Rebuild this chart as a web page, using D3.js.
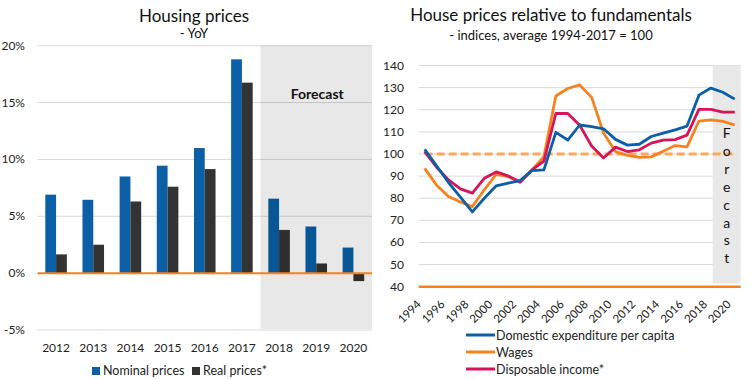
<!DOCTYPE html>
<html>
<head>
<meta charset="utf-8">
<script src="https://cdn.jsdelivr.net/npm/d3@7"></script>
<style>
  body { margin: 0; background: #fff; }
  svg { font-family: Lato, "Open Sans", sans-serif; }
</style>
</head>
<body>
<svg width="756" height="379"></svg>
<script>
// left chart: housing prices, yoy %
var barYears = ["2012", "2013", "2014", "2015", "2016", "2017", "2018", "2019", "2020"];
var nominal = [6.9, 6.45, 8.5, 9.45, 11.0, 18.8, 6.55, 4.1, 2.25];
var real = [1.65, 2.5, 6.3, 7.6, 9.15, 16.75, 3.8, 0.85, -0.7];
var pctTicks = [-5, 0, 5, 10, 15, 20];
var barForecastFrom = "2018";

// right chart: indices, average 1994-2017 = 100
var years = d3.range(1994, 2021);
var domestic = [102.1, 94.6, 87.1, 80.5, 73.8, 80, 85.6, 86.8, 88, 92.5, 92.8, 109.8, 106.3, 113.1, 112.4, 111.4, 106.6, 104, 104.4, 107.9, 109.4, 110.9, 112.6, 126.6, 129.8, 127.9, 124.8];
var wages = [93.5, 85.9, 80.8, 78.3, 76.2, 83.8, 90.8, 89.8, 87.5, 92.8, 98.8, 126.2, 129.6, 131.2, 125.6, 109.5, 101.1, 99.4, 98.5, 98.7, 101.2, 103.8, 103.2, 114.9, 115.4, 114.7, 113.1];
var income = [101, 94, 88.3, 84.2, 82.3, 89, 91.9, 90.1, 87.2, 92.8, 96.8, 118.3, 118.3, 113, 103.6, 98.2, 103.1, 101.1, 101.9, 104.9, 106.3, 106.5, 108.5, 120.2, 120.2, 118.9, 118.9];
var baseline = 100;
var idxTicks = [40, 50, 60, 70, 80, 90, 100, 110, 120, 130, 140];
var lineForecastFrom = 2018;

var blue = "#0a5fa6", dark = "#333333", orange = "#f5821f", pink = "#d5145a";
var grid = "#d9d9d9", shade = "rgba(0,0,0,0.09)";

var svg = d3.select("svg");

// ---------- left ----------
var x = d3.scaleBand().domain(barYears).range([37.5, 372]).paddingInner(0.42).paddingOuter(0.21);
var xs = d3.scaleBand().domain(["n", "r"]).range([0, x.bandwidth()]);
var y = d3.scaleLinear().domain([-5, 20]).range([330, 45.7]);

var L = svg.append("g");

L.append("text").attr("x", 194).attr("y", 22).attr("text-anchor", "middle")
  .attr("font-size", "17px").attr("fill", "#111").text("Housing prices");
L.append("text").attr("x", 194).attr("y", 38).attr("text-anchor", "middle")
  .attr("font-size", "13px").attr("fill", "#111").text("- YoY");

L.append("g").selectAll("line").data(pctTicks.filter(function (d) { return d != 0; })).enter()
  .append("line")
  .attr("x1", 37.5).attr("x2", 372)
  .attr("y1", function (d) { return y(d); }).attr("y2", function (d) { return y(d); })
  .attr("stroke", grid).attr("stroke-width", 1);

L.append("g").selectAll("text").data(pctTicks).enter()
  .append("text")
  .attr("x", 25).attr("y", function (d) { return y(d) + 4; })
  .attr("text-anchor", "end").attr("font-size", "12px").attr("fill", "#222")
  .text(function (d) { return d + "%"; });

var bars = L.append("g");
bars.selectAll(".nom").data(barYears).enter().append("rect")
  .attr("x", function (d) { return x(d) + xs("n"); })
  .attr("width", xs.bandwidth())
  .attr("y", function (d, i) { return y(Math.max(0, nominal[i])); })
  .attr("height", function (d, i) { return Math.abs(y(nominal[i]) - y(0)); })
  .attr("fill", blue);
bars.selectAll(".real").data(barYears).enter().append("rect")
  .attr("x", function (d) { return x(d) + xs("r"); })
  .attr("width", xs.bandwidth())
  .attr("y", function (d, i) { return y(Math.max(0, real[i])); })
  .attr("height", function (d, i) { return Math.abs(y(real[i]) - y(0)); })
  .attr("fill", dark);

var fx0 = x(barForecastFrom) - x.step() * x.paddingInner() / 2;
L.append("rect").attr("x", fx0).attr("y", y(20))
  .attr("width", 372 - fx0).attr("height", y(-5) - 1 - y(20))
  .attr("fill", shade);
L.append("text").attr("x", (fx0 + 372) / 2 + 1).attr("y", 99).attr("text-anchor", "middle")
  .attr("font-size", "14px").attr("font-weight", "bold").attr("fill", "#111").text("Forecast");

L.append("line").attr("x1", 37.5).attr("x2", 372).attr("y1", y(0)).attr("y2", y(0))
  .attr("stroke", orange).attr("stroke-width", 2);

L.append("g").selectAll("text").data(barYears).enter()
  .append("text")
  .attr("x", function (d) { return x(d) + x.bandwidth() / 2; })
  .attr("y", 352).attr("text-anchor", "middle").attr("font-size", "12px").attr("fill", "#222")
  .text(function (d) { return d; });

var lg = L.append("g").attr("font-size", "12.5px").attr("fill", "#222");
lg.append("rect").attr("x", 92).attr("y", 367).attr("width", 8).attr("height", 8).attr("fill", blue);
lg.append("text").attr("x", 103).attr("y", 375).text("Nominal prices");
lg.append("rect").attr("x", 192).attr("y", 367).attr("width", 8).attr("height", 8).attr("fill", dark);
lg.append("text").attr("x", 203).attr("y", 375).text("Real prices*");

// ---------- right ----------
var px = d3.scalePoint().domain(years).range([418.7, 740.7]).padding(0.5);
var py = d3.scaleLinear().domain([40, 140]).range([286.7, 65.5]);

var R = svg.append("g");

R.append("text").attr("x", 551).attr("y", 21).attr("text-anchor", "middle")
  .attr("font-size", "17px").attr("fill", "#111").text("House prices relative to fundamentals");
R.append("text").attr("x", 551).attr("y", 40).attr("text-anchor", "middle")
  .attr("font-size", "13px").attr("fill", "#111").text("- indices, average 1994-2017 = 100");

R.append("g").selectAll("line").data(idxTicks.filter(function (d) { return d != 40; })).enter()
  .append("line")
  .attr("x1", 418.7).attr("x2", 740.7)
  .attr("y1", function (d) { return py(d); }).attr("y2", function (d) { return py(d); })
  .attr("stroke", grid).attr("stroke-width", 1);

R.append("g").selectAll("text").data(idxTicks).enter()
  .append("text")
  .attr("x", 404).attr("y", function (d) { return py(d) + 4; })
  .attr("text-anchor", "end").attr("font-size", "12px").attr("fill", "#222")
  .text(function (d) { return d; });

var sx0 = px(lineForecastFrom) + px.step() * 0.15;
R.append("rect").attr("x", sx0).attr("y", py(140))
  .attr("width", 740.7 - sx0).attr("height", py(40) - 3 - py(140))
  .attr("fill", "#e8e8e8");

var line = d3.line()
  .x(function (d, i) { return px(years[i]); })
  .y(function (d) { return py(d); });

R.append("path").datum(years.map(function () { return baseline; }))
  .attr("d", line).attr("fill", "none")
  .attr("stroke", "#f8a961").attr("stroke-width", 3).attr("stroke-dasharray", "8,4");

[[wages, orange], [income, pink], [domestic, blue]].forEach(function (s) {
  R.append("path").datum(s[0])
    .attr("d", line).attr("fill", "none")
    .attr("stroke", s[1]).attr("stroke-width", 2.8).attr("stroke-linejoin", "round");
});

var fl = "Forecast".split("");
R.append("g").selectAll("text").data(fl).enter()
  .append("text")
  .attr("x", (sx0 + 740.7) / 2).attr("y", function (d, i) { return 138 + i * 17.9; })
  .attr("text-anchor", "middle").attr("font-size", "14px").attr("fill", "#111")
  .text(function (d) { return d; });

R.append("line").attr("x1", 418.7).attr("x2", 740.7).attr("y1", py(40)).attr("y2", py(40))
  .attr("stroke", orange).attr("stroke-width", 2.5);

R.append("g").selectAll("text").data(years.filter(function (d) { return d % 2 == 0; })).enter()
  .append("text")
  .attr("transform", function (d) { return "translate(" + (px(d) - 3) + ",305) rotate(-45)"; })
  .attr("text-anchor", "end").attr("font-size", "11.5px").attr("fill", "#222")
  .text(function (d) { return d; });

var legend = [["Domestic expenditure per capita", blue], ["Wages", orange], ["Disposable income*", pink]];
var rl = R.append("g");
legend.forEach(function (d, i) {
  var yy = 335 + i * 17;
  rl.append("line").attr("x1", 466).attr("x2", 495).attr("y1", yy).attr("y2", yy)
    .attr("stroke", d[1]).attr("stroke-width", 3);
  rl.append("text").attr("x", 496).attr("y", yy + 4.5).attr("font-size", "12.5px").attr("fill", "#222").text(d[0]);
});
</script>
</body>
</html>
